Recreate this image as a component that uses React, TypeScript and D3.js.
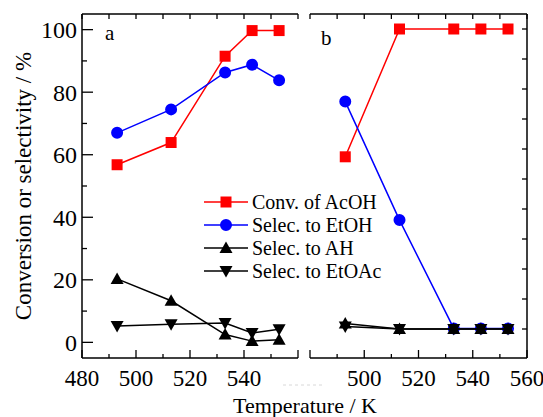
// @ts-nocheck

import { useEffect, useRef } from "react";
import * as d3 from "d3";

const temps = [493, 513, 533, 543, 553];

// panel a
const convA = [56.8, 63.9, 91.5, 99.7, 99.7];
const etohA = [67.0, 74.5, 86.3, 88.8, 83.8];
const ahA = [20.3, 13.3, 2.5, 0.4, 0.8];
const etoacA = [5.2, 5.8, 6.2, 3.0, 4.2];

// panel b
const convB = [57.4, 100, 100, 100, 100];
const etohB = [75.8, 36.3, 0.2, 0.2, 0.2];
const ahB = [1.8, 0, 0, 0, 0];
const etoacB = [0.8, 0, 0, 0, 0];

const yTicks = [0, 20, 40, 60, 80, 100];
const xTicksA = [480, 500, 520, 540];
const xTicksB = [500, 520, 540, 560];

const legendLabels = [
  "Conv. of AcOH",
  "Selec. to EtOH",
  "Selec. to AH",
  "Selec. to EtOAc",
];

const W = 543;
const H = 417;
const FONT = "Liberation Serif, Times New Roman, Times, DejaVu Serif, serif";

const marker = (type) => {
  if (type === "square") return "M-5.5,-5.5H5.5V5.5H-5.5Z";
  if (type === "circle") return d3.symbol(d3.symbolCircle, 113)();
  if (type === "up") return "M0,-6.5L6.5,5L-6.5,5Z";
  return "M0,6.5L6.5,-5L-6.5,-5Z";
};

const App = () => {
  const ref = useRef(null);

  useEffect(() => {
    const svg = d3.select(ref.current);
    svg.selectAll("*").remove();

    const top = 14;
    const bottom = 358;

    const xA = d3.scaleLinear().domain([480, 560]).range([82, 298]);
    const xB = d3.scaleLinear().domain([480, 560]).range([310, 527]);
    const yA = d3.scaleLinear().domain([-5, 105]).range([bottom, top]);
    const yB = d3.scaleLinear().domain([-29 / 3, 105]).range([bottom, top]);

    const g = svg.append("g").style("font-family", FONT);

    const drawFrame = (x, y, labels, side) => {
      const [x0, x1] = x.range();
      const minor = d3.range(480, 561, 10);
      g.append("line").attr("x1", x0).attr("x2", x1).attr("y1", top).attr("y2", top)
        .attr("stroke", "#000").attr("stroke-width", 1.5);
      g.append("line").attr("x1", x0).attr("x2", x1).attr("y1", bottom).attr("y2", bottom)
        .attr("stroke", "#000").attr("stroke-width", 1.5);
      minor.forEach((t) => {
        const major = t % 20 === 0;
        g.append("line").attr("x1", x(t)).attr("x2", x(t))
          .attr("y1", bottom).attr("y2", bottom - (major ? 8 : 4))
          .attr("stroke", "#000").attr("stroke-width", 1.3);
        g.append("line").attr("x1", x(t)).attr("x2", x(t))
          .attr("y1", top).attr("y2", top + 5)
          .attr("stroke", "#000").attr("stroke-width", 1.3);
      });
      labels.forEach((t) => {
        g.append("text").attr("x", x(t)).attr("y", 386)
          .attr("text-anchor", "middle").style("font-size", "23px").text(t);
      });
      const ys = d3.range(0, 101, 10);
      if (side === "left") {
        g.append("line").attr("x1", x0).attr("x2", x0).attr("y1", top).attr("y2", bottom)
          .attr("stroke", "#000").attr("stroke-width", 1.5);
        ys.forEach((v) => {
          g.append("line").attr("x1", x0).attr("x2", x0 + (v % 20 === 0 ? 11 : 5))
            .attr("y1", y(v)).attr("y2", y(v))
            .attr("stroke", "#000").attr("stroke-width", 1.3);
        });
        yTicks.forEach((v) => {
          g.append("text").attr("x", 77).attr("y", y(v)).attr("dy", "0.35em")
            .attr("text-anchor", "end").style("font-size", "24px").text(v);
        });
      } else {
        g.append("line").attr("x1", x1).attr("x2", x1).attr("y1", top).attr("y2", bottom)
          .attr("stroke", "#000").attr("stroke-width", 1.5);
        ys.forEach((v) => {
          g.append("line").attr("x1", x1).attr("x2", x1 - 5)
            .attr("y1", y(v)).attr("y2", y(v))
            .attr("stroke", "#000").attr("stroke-width", 1.3);
        });
      }
    };

    drawFrame(xA, yA, xTicksA, "left");
    drawFrame(xB, yB, xTicksB, "right");

    const drawSeries = (x, y, vals, color, type) => {
      const pts = temps.map((t, i) => [x(t), y(vals[i])]);
      g.append("path").attr("d", d3.line()(pts))
        .attr("fill", "none").attr("stroke", color).attr("stroke-width", 1.5);
      pts.forEach((p) => {
        g.append("path").attr("d", marker(type))
          .attr("transform", `translate(${p[0]},${p[1]})`)
          .attr("fill", color);
      });
    };

    const seriesA = [
      [convA, "#ff0000", "square"],
      [etohA, "#0000ff", "circle"],
      [ahA, "#000000", "up"],
      [etoacA, "#000000", "down"],
    ];
    const seriesB = [
      [convB, "#ff0000", "square"],
      [etohB, "#0000ff", "circle"],
      [ahB, "#000000", "up"],
      [etoacB, "#000000", "down"],
    ];
    seriesA.forEach((s) => drawSeries(xA, yA, s[0], s[1], s[2]));
    seriesB.forEach((s) => drawSeries(xB, yB, s[0], s[1], s[2]));

    // panel labels
    g.append("text").attr("x", 105).attr("y", 40).style("font-size", "21px").text("a");
    g.append("text").attr("x", 321).attr("y", 45).style("font-size", "21px").text("b");

    // legend
    const lg = g.append("g").attr("transform", "translate(204,202)");
    seriesA.forEach((s, i) => {
      const row = lg.append("g").attr("transform", `translate(0,${i * 23})`);
      row.append("line").attr("x1", 0).attr("x2", 44).attr("y1", 0).attr("y2", 0)
        .attr("stroke", s[1]).attr("stroke-width", 1.5);
      row.append("path").attr("d", marker(s[2]))
        .attr("transform", "translate(22,0)").attr("fill", s[1]);
      row.append("text").attr("x", 48).attr("y", 0).attr("dy", "0.35em")
        .style("font-size", "20px").text(legendLabels[i]);
    });

    // faint remnants of hidden tick labels near the break
    g.append("line").attr("x1", 283).attr("x2", 322).attr("y1", 385).attr("y2", 385)
      .attr("stroke", "#d8d8d8").attr("stroke-width", 1).attr("stroke-dasharray", "3,3");

    // axis titles
    g.append("text").attr("x", 305).attr("y", 413).attr("text-anchor", "middle")
      .style("font-size", "22px").text("Temperature / K");
    g.append("text").attr("transform", "translate(31,186) rotate(-90)")
      .attr("text-anchor", "middle").style("font-size", "23px")
      .text("Conversion or selectivity / %");
  }, []);

  return (
    <svg
      ref={ref}
      width={W}
      height={H}
      viewBox={`0 0 ${W} ${H}`}
      style={{ position: "absolute", left: 0, top: 0, background: "#fff" }}
    />
  );
};

export default App;
